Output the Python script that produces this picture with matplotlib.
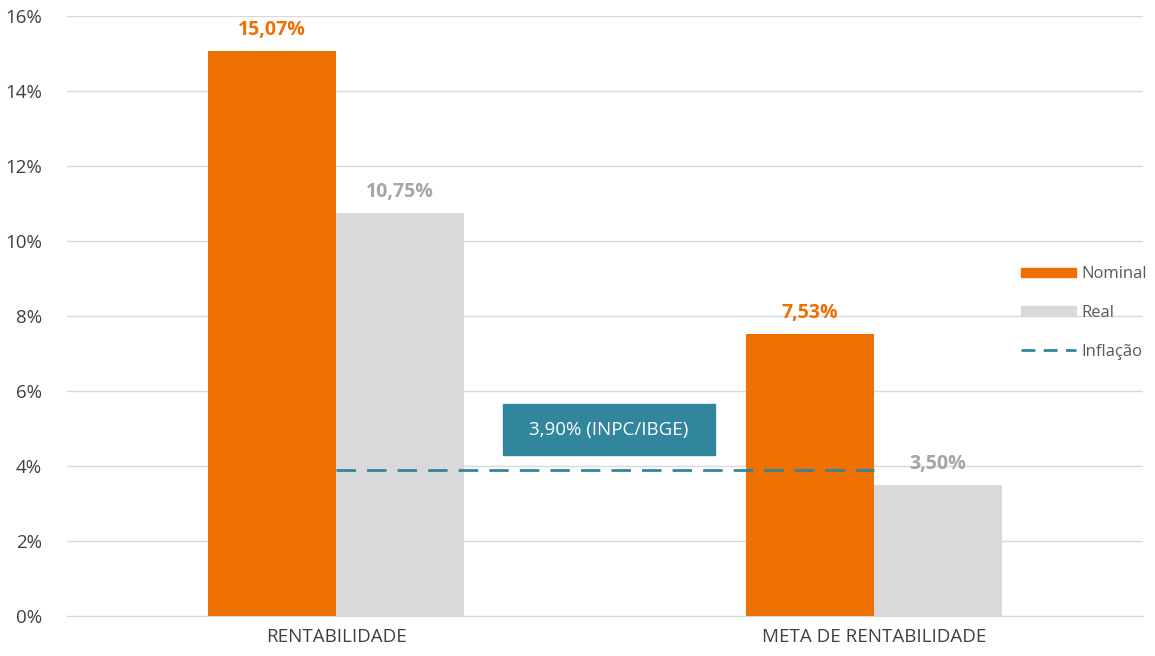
import matplotlib
matplotlib.use("Agg")
import matplotlib.pyplot as plt
from matplotlib.patches import Rectangle
from matplotlib.lines import Line2D
from matplotlib.patches import Patch

plt.rcParams['font.family'] = ['Open Sans', 'DejaVu Sans']

categories = ["RENTABILIDADE", "META DE RENTABILIDADE"]
nominal = [15.07, 7.53]
real = [10.75, 3.50]
inflacao = 3.90
inflacao_label = "3,90% (INPC/IBGE)"
yticks = [0, 2, 4, 6, 8, 10, 12, 14, 16]

orange = '#EE7000'
grey_bar = '#D9D9D9'
grey_lab = '#A5A5A5'
teal = '#31859C'

fig = plt.figure(figsize=(11.55, 6.56), dpi=100)
ax = fig.add_axes([67/1155, 40/656, 1076/1155, 600/656])

x = list(range(len(categories)))
w = 0.238
ax.bar([i - w/2 for i in x], nominal, width=w, color=orange, zorder=3)
ax.bar([i + w/2 for i in x], real, width=w, color=grey_bar, zorder=3)

def fmt(v):
    return f"{v:.2f}".replace('.', ',') + '%'

for i in x:
    ax.annotate(fmt(nominal[i]), (i - w/2, nominal[i]), xytext=(0, 8), textcoords='offset points',
                ha='center', va='bottom', fontsize=14, fontweight='bold', color=orange, zorder=5)
    ax.annotate(fmt(real[i]), (i + w/2, real[i]), xytext=(0, 8), textcoords='offset points',
                ha='center', va='bottom', fontsize=14, fontweight='bold', color=grey_lab, zorder=5)

ax.plot([x[0], x[1]], [inflacao, inflacao], color=teal, lw=2, dashes=(7, 4), zorder=4)

# label box
bx0, bx1 = 0.31, 0.705
by0, by1 = 4.29, 5.65
ax.add_patch(Rectangle((bx0, by0), bx1 - bx0, by1 - by0, color=teal, zorder=5))
ax.text((bx0 + bx1)/2, (by0 + by1)/2, inflacao_label, ha='center', va='center',
        color='white', fontsize=13.5, zorder=6)

ax.set_xlim(-0.5, 1.5)
ax.set_ylim(0, 16)
ax.set_yticks(yticks)
ax.set_yticklabels([f"{t}%" for t in yticks])
ax.set_xticks(x)
ax.set_xticklabels(categories)
ax.tick_params(axis='both', length=0, labelsize=13.5, colors='#404040')
ax.tick_params(axis='y', pad=18)
ax.tick_params(axis='x', pad=9)
ax.grid(axis='y', color='#D9D9D9', lw=1, zorder=0)
for s in ['top', 'right', 'left']:
    ax.spines[s].set_visible(False)
ax.spines['bottom'].set_color('#D9D9D9')

handles = [Patch(color=orange), Patch(color=grey_bar),
           Line2D([], [], color=teal, lw=2, dashes=(5, 3))]
leg = ax.legend(handles, ['Nominal', 'Real', 'Inflação'], loc='center left',
                bbox_to_anchor=(0.873, 0.505), frameon=False, fontsize=12,
                labelcolor='#595959', handlelength=3.3, handleheight=0.5,
                labelspacing=1.35, handletextpad=0.3)

fig.savefig('out.png', dpi=100)
